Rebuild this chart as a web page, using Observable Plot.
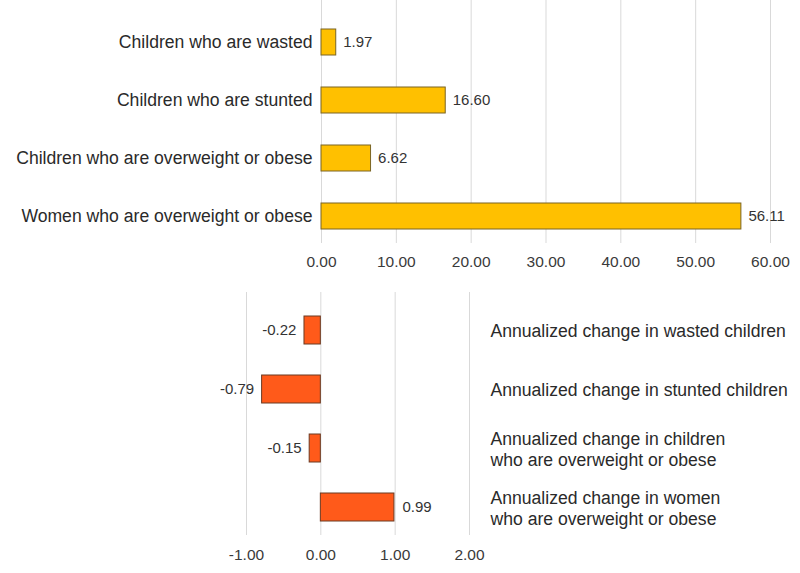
<!DOCTYPE html>
<html><head><meta charset="utf-8">
<script src="https://cdn.jsdelivr.net/npm/d3@7"></script>
<script src="https://cdn.jsdelivr.net/npm/@observablehq/plot@0.6"></script>
<style>body{margin:0;background:#fff}#chart svg{display:block}</style>
</head><body><div id="chart"></div>
<script>
const prevalenceCategories = ["Children who are wasted", "Children who are stunted", "Children who are overweight or obese", "Women who are overweight or obese"];
const prevalenceValues = [1.97, 16.60, 6.62, 56.11];
const prevalenceTicks = [0, 10, 20, 30, 40, 50, 60];

const changeCategories = ["Annualized change in wasted children", "Annualized change in stunted children", "Annualized change in children\nwho are overweight or obese", "Annualized change in women\nwho are overweight or obese"];
const changeValues = [-0.22, -0.79, -0.15, 0.99];
const changeTicks = [-1, 0, 1, 2];

const fmt = d => d.toFixed(2);
const font = "Liberation Sans, Arial, sans-serif";
const textColor = "#333";

const prevalenceData = prevalenceCategories.map((c, i) => ({cat: c, value: prevalenceValues[i]}));
const changeData = changeCategories.map((c, i) => ({cat: c, value: changeValues[i]}));

const topPlot = Plot.plot({
  width: 800, height: 290,
  marginLeft: 321, marginRight: 30, marginTop: 0, marginBottom: 47,
  style: {fontFamily: font, color: textColor, background: "#fff"},
  x: {domain: [0, 60], label: null, axis: null},
  y: {domain: prevalenceCategories, range: [13, 245], paddingInner: 0.55, paddingOuter: 0.275, label: null, axis: null},
  marks: [
    Plot.gridX(prevalenceTicks, {stroke: "#d9d9d9", strokeOpacity: 1}),
    Plot.barX(prevalenceData, {x: "value", y: "cat", fill: "#FFC000", stroke: "#7a6424", strokeWidth: 1}),
    Plot.text(prevalenceData, {x: "value", y: "cat", text: d => fmt(d.value), dx: 7, textAnchor: "start", fontSize: 15, fill: textColor}),
    Plot.axisY({tickSize: 0, tickPadding: 9, fontSize: 17.6, fill: "#2a2a2a", label: null}),
    Plot.axisX(prevalenceTicks, {tickSize: 0, tickPadding: 12, tickFormat: fmt, fontSize: 15.5, fill: "#3a3a3a", label: null})
  ]
});

const bottomPlot = Plot.plot({
  width: 800, height: 283,
  marginLeft: 246, marginRight: 331, marginTop: 2, marginBottom: 38,
  style: {fontFamily: font, color: textColor, background: "#fff", overflow: "visible"},
  x: {domain: [-1, 2], label: null, axis: null},
  y: {domain: changeCategories, range: [8, 248], paddingInner: 0.533, paddingOuter: 0.267, label: null, axis: null},
  marks: [
    Plot.gridX(changeTicks, {stroke: "#d9d9d9", strokeOpacity: 1}),
    Plot.barX(changeData, {x: "value", y: "cat", fill: "#FF5A1A", stroke: "#6b3a22", strokeWidth: 1}),
    Plot.text(changeData.filter(d => d.value < 0), {x: "value", y: "cat", text: d => fmt(d.value), dx: -8, textAnchor: "end", fontSize: 15, fill: textColor}),
    Plot.text(changeData.filter(d => d.value >= 0), {x: "value", y: "cat", text: d => fmt(d.value), dx: 8, textAnchor: "start", fontSize: 15, fill: textColor}),
    Plot.text(changeData, {x: () => 2, y: "cat", text: "cat", dx: 21, textAnchor: "start", fontSize: 17.6, lineHeight: 1.2, fill: "#2a2a2a"}),
    Plot.axisX(changeTicks, {tickSize: 0, tickPadding: 13, tickFormat: fmt, fontSize: 15.5, fill: "#3a3a3a", label: null})
  ]
});

const chart = document.getElementById("chart");
chart.appendChild(topPlot);
chart.appendChild(bottomPlot);
</script>
</body></html>
